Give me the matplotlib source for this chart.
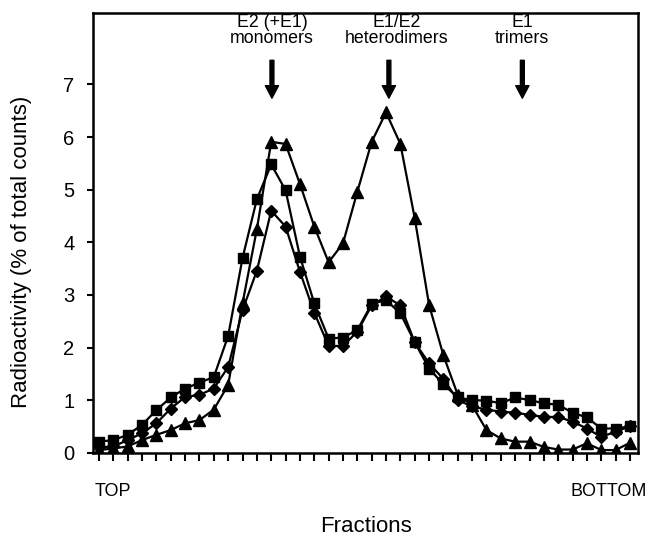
import matplotlib
matplotlib.use("Agg")
import matplotlib.pyplot as plt
import numpy as np

plt.rcParams['font.family'] = ['Liberation Sans', 'DejaVu Sans']

fractions = list(range(1, 39))

squares = [0.21, 0.24, 0.34, 0.53, 0.81, 1.05, 1.22, 1.33, 1.44, 2.22,
           3.70, 4.82, 5.48, 4.99, 3.73, 2.84, 2.17, 2.19, 2.33, 2.83,
           2.90, 2.65, 2.10, 1.60, 1.30, 1.05, 1.00, 0.99, 0.94, 1.05,
           1.00, 0.94, 0.91, 0.76, 0.67, 0.46, 0.46, 0.50]

diamonds = [0.10, 0.12, 0.24, 0.37, 0.56, 0.84, 1.06, 1.10, 1.22, 1.63,
            2.71, 3.46, 4.60, 4.30, 3.44, 2.66, 2.03, 2.03, 2.30, 2.80,
            2.97, 2.80, 2.10, 1.70, 1.40, 1.00, 0.88, 0.82, 0.78, 0.76,
            0.72, 0.68, 0.68, 0.59, 0.46, 0.30, 0.40, 0.50]

triangles = [0.05, 0.08, 0.12, 0.24, 0.34, 0.43, 0.56, 0.62, 0.82, 1.29,
             2.84, 4.25, 5.91, 5.87, 5.11, 4.30, 3.62, 3.98, 4.96, 5.91,
             6.47, 5.87, 4.46, 2.81, 1.85, 1.10, 0.90, 0.43, 0.27, 0.21,
             0.21, 0.11, 0.06, 0.06, 0.18, 0.05, 0.05, 0.19]

annot_labels = ["E2 (+E1)\nmonomers", "E1/E2\nheterodimers", "E1\ntrimers"]
annot_x = [13.05, 21.2, 30.5]
annot_text_x = [13.05, 21.75, 30.5]

fig = plt.figure(figsize=(6.48, 5.43), dpi=100)
ax = fig.add_axes([93/648, 1-452.7/543, (638-93)/648, (452.7-12.7)/543])

ax.plot(fractions, squares, color='black', lw=1.6, marker='s', ms=7.5,
        markerfacecolor='black', markeredgecolor='black', zorder=3)
ax.plot(fractions, diamonds, color='black', lw=1.6, marker='D', ms=6,
        markerfacecolor='black', markeredgecolor='black', zorder=3)
ax.plot(fractions, triangles, color='black', lw=1.6, marker='^', ms=8.5,
        markerfacecolor='black', markeredgecolor='black', zorder=3)

ax.set_xlim(0.58, 38.56)
ax.set_ylim(0, (452.7-12.7)/52.6)
ax.set_xticks(fractions)
ax.set_xticklabels([])
ax.set_yticks(range(0, 8))
ax.tick_params(axis='x', direction='out', length=5.5, width=1.5)
ax.tick_params(axis='y', direction='out', length=4.5, width=1.5,
               labelsize=14.5, pad=9)
for s in ax.spines.values():
    s.set_linewidth(1.8)

for lab, xa, xt in zip(annot_labels, annot_x, annot_text_x):
    ax.annotate('', xy=(xa, 6.74), xytext=(xa, 7.46),
                arrowprops=dict(width=2.8, headwidth=9.5, headlength=9,
                                facecolor='black', edgecolor='black'))
    ax.text(xt, 8.03, lab, ha='center', va='center', fontsize=12.8,
            linespacing=0.95)

fig.text(95/648, 1-492/543, 'TOP', ha='left', va='center', fontsize=13)
fig.text(647/648, 1-492/543, 'BOTTOM', ha='right', va='center', fontsize=13)
fig.text(366/648, 1-527/543, 'Fractions', ha='center', va='center', fontsize=16)
fig.text(22/648, 1-252/543, 'Radioactivity (% of total counts)', ha='center',
         va='center', rotation=90, fontsize=16)

fig.savefig('out.png', dpi=100)
